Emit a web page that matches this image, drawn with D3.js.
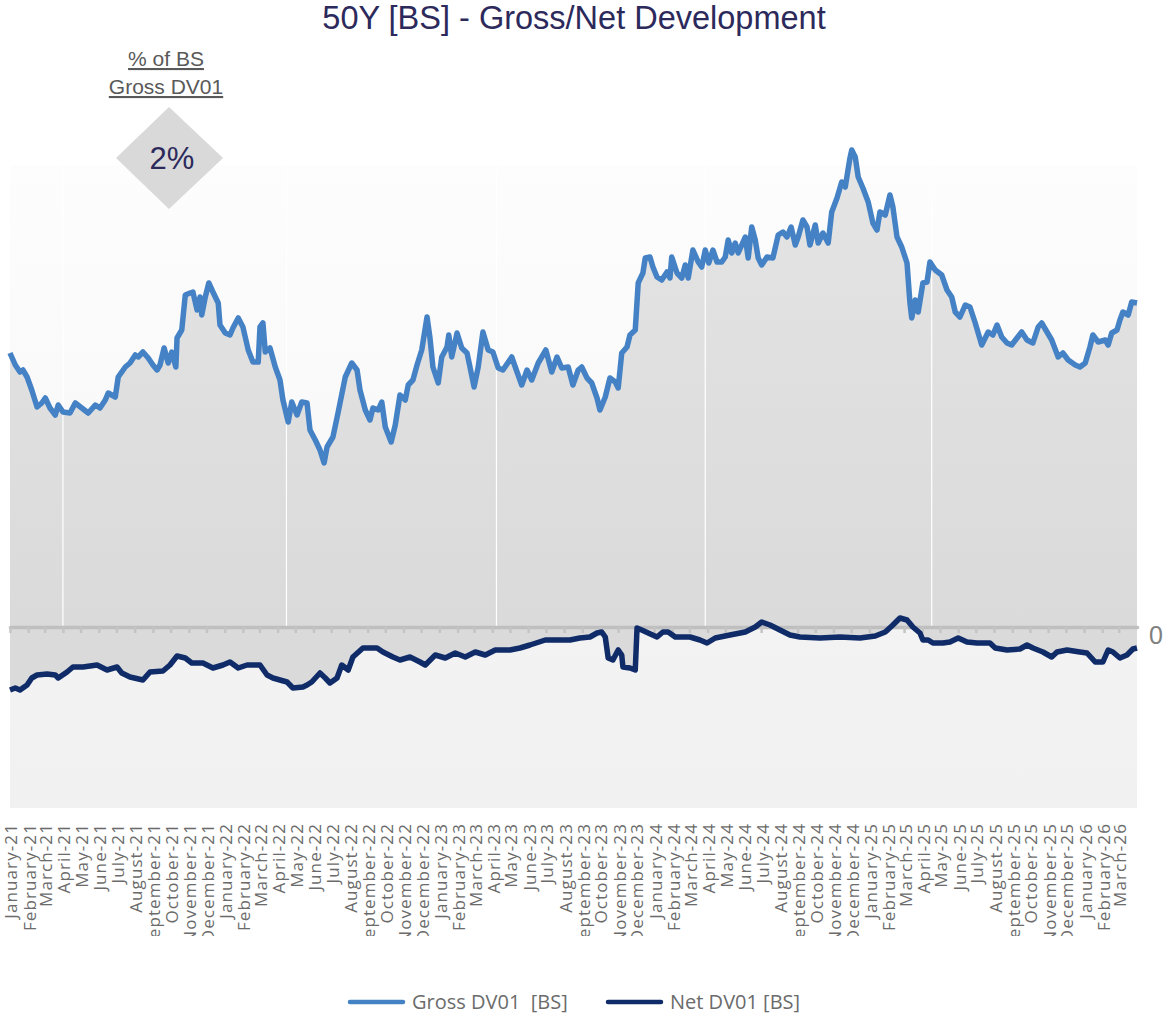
<!DOCTYPE html>
<html>
<head>
<meta charset="utf-8">
<script src="https://cdn.jsdelivr.net/npm/d3@7"></script>
<style>
  body { margin: 0; background: #fff; }
  svg { display: block; }
</style>
</head>
<body>
<div id="chart"></div>
<script>
// day offsets from 2021-01-01 and values (units, zero line = 0)
var grossDays = [0, 9, 17, 22, 29, 37, 46, 54, 60, 68, 77, 82, 90, 102, 111, 122, 133, 145, 153, 162, 167, 179, 184, 196, 204, 213, 218, 226, 235, 243, 250, 255, 262, 269, 275, 282, 284, 292, 298, 306, 311, 318, 323, 326, 332, 338, 345, 354, 357, 366, 374, 379, 388, 396, 405, 413, 422, 425, 430, 434, 442, 451, 459, 464, 473, 479, 488, 496, 505, 510, 519, 527, 534, 539, 549, 558, 570, 581, 590, 595, 604, 612, 617, 626, 632, 638, 648, 655, 663, 672, 677, 685, 692, 700, 709, 714, 719, 728, 734, 743, 746, 751, 760, 768, 777, 782, 789, 796, 804, 813, 821, 830, 838, 853, 862, 870, 879, 887, 898, 911, 921, 930, 938, 949, 957, 966, 972, 981, 989, 998, 1003, 1012, 1020, 1029, 1034, 1040, 1049, 1054, 1063, 1068, 1076, 1080, 1088, 1093, 1100, 1108, 1117, 1122, 1125, 1134, 1142, 1148, 1153, 1161, 1170, 1176, 1182, 1188, 1195, 1202, 1210, 1216, 1221, 1227, 1233, 1238, 1250, 1255, 1261, 1267, 1272, 1278, 1287, 1297, 1306, 1314, 1321, 1328, 1335, 1340, 1348, 1355, 1360, 1369, 1374, 1382, 1391, 1397, 1406, 1414, 1420, 1428, 1431, 1437, 1442, 1450, 1459, 1467, 1474, 1479, 1488, 1496, 1501, 1508, 1516, 1525, 1530, 1533, 1539, 1544, 1552, 1559, 1564, 1573, 1584, 1593, 1601, 1607, 1615, 1624, 1632, 1641, 1652, 1663, 1671, 1678, 1686, 1695, 1703, 1712, 1720, 1729, 1739, 1748, 1754, 1763, 1771, 1782, 1790, 1799, 1811, 1819, 1828, 1836, 1841, 1850, 1862, 1867, 1873, 1882, 1887, 1892, 1901, 1907, 1916];
var grossValues = [274, 262, 255, 257, 250, 237, 220, 224, 229, 219, 212, 222, 215, 214, 224, 219, 214, 222, 219, 227, 234, 230, 250, 260, 264, 272, 270, 275, 269, 262, 257, 262, 279, 264, 275, 260, 289, 297, 332, 334, 335, 317, 330, 312, 330, 344, 335, 324, 302, 294, 292, 299, 309, 300, 277, 265, 265, 300, 304, 275, 279, 260, 247, 227, 205, 225, 212, 225, 224, 197, 187, 177, 164, 180, 190, 215, 250, 264, 257, 237, 217, 207, 219, 217, 225, 200, 185, 202, 232, 227, 242, 247, 262, 277, 310, 289, 260, 244, 270, 280, 292, 270, 294, 279, 274, 260, 240, 260, 295, 277, 275, 259, 257, 270, 255, 242, 257, 247, 264, 277, 255, 270, 259, 260, 242, 257, 260, 249, 244, 229, 217, 230, 249, 245, 239, 274, 280, 292, 297, 344, 354, 369, 370, 360, 350, 347, 355, 349, 370, 354, 349, 362, 349, 377, 365, 360, 377, 364, 377, 365, 365, 370, 387, 374, 384, 374, 390, 369, 400, 387, 369, 362, 370, 369, 392, 395, 390, 400, 382, 390, 407, 400, 382, 402, 384, 394, 384, 415, 429, 445, 440, 469, 477, 470, 450, 439, 425, 404, 397, 415, 412, 432, 420, 390, 380, 364, 324, 309, 327, 315, 344, 345, 365, 357, 352, 337, 330, 315, 310, 322, 320, 304, 282, 295, 292, 302, 290, 284, 282, 289, 295, 287, 284, 300, 304, 295, 287, 270, 274, 267, 262, 260, 264, 280, 292, 285, 287, 282, 294, 297, 307, 315, 312, 325, 324];

var netDays = [0, 9, 17, 29, 37, 46, 63, 77, 82, 97, 107, 124, 148, 165, 182, 190, 204, 226, 238, 260, 272, 284, 298, 309, 328, 345, 362, 374, 388, 403, 425, 437, 447, 459, 471, 481, 498, 505, 513, 527, 536, 544, 556, 564, 575, 583, 600, 624, 634, 651, 663, 680, 697, 706, 723, 740, 757, 774, 791, 808, 825, 850, 867, 884, 910, 935, 952, 969, 986, 998, 1006, 1012, 1017, 1025, 1034, 1040, 1042, 1054, 1063, 1066, 1074, 1085, 1100, 1110, 1119, 1131, 1156, 1173, 1185, 1199, 1224, 1250, 1267, 1278, 1292, 1309, 1326, 1343, 1377, 1411, 1445, 1471, 1488, 1501, 1513, 1525, 1535, 1547, 1552, 1561, 1569, 1586, 1598, 1612, 1627, 1644, 1666, 1675, 1695, 1717, 1729, 1739, 1756, 1771, 1780, 1797, 1819, 1831, 1845, 1858, 1867, 1875, 1887, 1899, 1909, 1916];
var netValues = [-63, -61, -63, -58, -51, -48, -47, -48, -51, -45, -40, -40, -38, -43, -40, -46, -50, -53, -45, -44, -38, -29, -31, -36, -36, -41, -38, -35, -41, -38, -38, -48, -51, -53, -55, -61, -60, -58, -55, -46, -51, -56, -51, -38, -43, -30, -21, -21, -25, -30, -33, -30, -35, -38, -28, -31, -26, -30, -25, -28, -23, -23, -21, -18, -13, -13, -13, -11, -10, -6, -5, -10, -31, -33, -23, -28, -40, -41, -43, -1, -3, -6, -10, -5, -5, -10, -10, -13, -16, -11, -8, -5, 0, 5, 2, -3, -8, -10, -11, -10, -11, -9, -5, 2, 9, 7, 0, -6, -13, -13, -16, -16, -15, -11, -15, -16, -16, -21, -23, -22, -18, -21, -25, -30, -25, -23, -25, -26, -35, -35, -23, -25, -31, -28, -22, -21];

var gridDates = ['2021-04-01', '2022-04-16', '2023-04-08', '2024-03-28', '2025-04-17'];
var sharePct = '2%';
var seriesNames = ['Gross DV01  [BS]', 'Net DV01 [BS]'];

var width = 1171;
var height = 1019;
var plot = { left: 10, right: 1137, top: 165, bottom: 808 };

var svg = d3.select('#chart')
  .append('svg')
  .attr('width', width)
  .attr('height', height);

var start = new Date(2021, 0, 1);
var end = d3.timeDay.offset(start, 1916);
var parseDate = d3.timeParse('%Y-%m-%d');

var gross = grossDays.map(function(d, i) {
  return { date: d3.timeDay.offset(start, d), value: grossValues[i] };
});
var net = netDays.map(function(d, i) {
  return { date: d3.timeDay.offset(start, d), value: netValues[i] };
});

var x = d3.scaleTime()
  .domain([start, end])
  .range([plot.left, plot.right]);

var y = d3.scaleLinear()
  .domain([-181, 462])
  .range([plot.bottom, plot.top]);

var defs = svg.append('defs');

var bgGrad = defs.append('linearGradient')
  .attr('id', 'bg-grad')
  .attr('gradientUnits', 'userSpaceOnUse')
  .attr('x1', 0).attr('y1', plot.top)
  .attr('x2', 0).attr('y2', plot.bottom);
bgGrad.append('stop').attr('offset', '0%').attr('stop-color', '#fdfdfd');
bgGrad.append('stop').attr('offset', '71%').attr('stop-color', '#f6f6f6');
bgGrad.append('stop').attr('offset', '72%').attr('stop-color', '#f3f3f3');
bgGrad.append('stop').attr('offset', '100%').attr('stop-color', '#f1f1f1');

var areaGrad = defs.append('linearGradient')
  .attr('id', 'area-grad')
  .attr('gradientUnits', 'userSpaceOnUse')
  .attr('x1', 0).attr('y1', plot.top)
  .attr('x2', 0).attr('y2', y(0));
areaGrad.append('stop').attr('offset', '0%').attr('stop-color', '#e4e4e4');
areaGrad.append('stop').attr('offset', '100%').attr('stop-color', '#dadada');

defs.append('clipPath')
  .attr('id', 'label-clip')
  .append('rect')
  .attr('x', 0).attr('y', 812)
  .attr('width', width).attr('height', 124);

// plot background
svg.append('rect')
  .attr('x', plot.left)
  .attr('y', plot.top)
  .attr('width', plot.right - plot.left)
  .attr('height', plot.bottom - plot.top)
  .attr('fill', 'url(#bg-grad)');

var area = d3.area()
  .x(function(d) { return x(d.date); })
  .y0(y(0))
  .y1(function(d) { return y(d.value); });

svg.append('path')
  .datum(gross)
  .attr('fill', 'url(#area-grad)')
  .attr('d', area);

svg.append('path')
  .datum(net)
  .attr('fill', '#dadada')
  .attr('d', area);

// vertical gridlines
svg.selectAll('.vgrid')
  .data(gridDates)
  .enter()
  .append('line')
  .attr('class', 'vgrid')
  .attr('x1', function(d) { return x(parseDate(d)); })
  .attr('x2', function(d) { return x(parseDate(d)); })
  .attr('y1', plot.top)
  .attr('y2', y(0))
  .attr('stroke', '#ffffff')
  .attr('stroke-width', 1.2);

// zero axis with monthly ticks
var months = d3.timeMonth.range(start, end);

var zeroAxis = svg.append('g')
  .attr('transform', 'translate(0,' + y(0) + ')')
  .call(d3.axisBottom(x).tickValues(months).tickSize(6).tickSizeOuter(0).tickFormat(''));
zeroAxis.select('.domain')
  .attr('stroke', '#bfbfbf')
  .attr('stroke-width', 3.5)
  .attr('stroke-linecap', 'round');
zeroAxis.selectAll('.tick line')
  .attr('stroke', '#c4c4c4')
  .attr('stroke-width', 2.5);

svg.append('text')
  .attr('x', 1149)
  .attr('y', y(0) + 17)
  .attr('font-family', 'Liberation Sans, Arial, sans-serif')
  .attr('font-size', 25)
  .attr('fill', '#808080')
  .text('0');

// series lines
var line = d3.line()
  .x(function(d) { return x(d.date); })
  .y(function(d) { return y(d.value); });

svg.append('path')
  .datum(gross)
  .attr('fill', 'none')
  .attr('stroke', '#4482c5')
  .attr('stroke-width', 5.5)
  .attr('stroke-linejoin', 'round')
  .attr('d', line);

svg.append('path')
  .datum(net)
  .attr('fill', 'none')
  .attr('stroke', '#0f2b68')
  .attr('stroke-width', 5.5)
  .attr('stroke-linejoin', 'round')
  .attr('d', line);

// month labels
var fmt = d3.timeFormat('%B-%y');
var labelAxis = svg.append('g')
  .attr('clip-path', 'url(#label-clip)')
  .append('g')
  .attr('transform', 'translate(1,823)')
  .call(d3.axisBottom(x).tickValues(months).tickSize(0).tickFormat(fmt));
labelAxis.select('.domain').remove();
labelAxis.selectAll('text')
  .attr('transform', 'rotate(-90)')
  .attr('x', 0)
  .attr('y', 0)
  .attr('dy', '0.35em')
  .style('text-anchor', 'end')
  .attr('font-family', 'Open Sans, sans-serif')
  .attr('font-size', 17)
  .attr('letter-spacing', 1.1)
  .attr('fill', '#6b6b6b');

// title
svg.append('text')
  .attr('x', 574)
  .attr('y', 29)
  .attr('text-anchor', 'middle')
  .attr('font-family', 'Liberation Sans, Arial, sans-serif')
  .attr('font-size', 32.5)
  .attr('fill', '#2c295b')
  .text('50Y [BS] - Gross/Net Development');

// share box
var note = svg.append('g');
note.append('text')
  .attr('x', 166).attr('y', 66)
  .attr('text-anchor', 'middle')
  .attr('font-family', 'Liberation Sans, Arial, sans-serif')
  .attr('font-size', 21)
  .attr('fill', '#595959')
  .attr('text-decoration', 'underline')
  .text('% of BS');
note.append('text')
  .attr('x', 166).attr('y', 94)
  .attr('text-anchor', 'middle')
  .attr('font-family', 'Liberation Sans, Arial, sans-serif')
  .attr('font-size', 21)
  .attr('fill', '#595959')
  .attr('text-decoration', 'underline')
  .text('Gross DV01');
note.append('path')
  .attr('d', 'M169,107 L223,158 L169,209 L116,158 Z')
  .attr('fill', '#d9d9d9');
note.append('text')
  .attr('x', 172).attr('y', 169)
  .attr('text-anchor', 'middle')
  .attr('font-family', 'Liberation Sans, Arial, sans-serif')
  .attr('font-size', 31)
  .attr('fill', '#2c295b')
  .text(sharePct);

// legend
var legend = svg.append('g');
var legendItems = [
  { name: seriesNames[0], color: '#4482c5', x: 350 },
  { name: seriesNames[1], color: '#0f2b68', x: 608 }
];
legendItems.forEach(function(d) {
  legend.append('line')
    .attr('x1', d.x).attr('x2', d.x + 53)
    .attr('y1', 1002).attr('y2', 1002)
    .attr('stroke', d.color)
    .attr('stroke-width', 4.5)
    .attr('stroke-linecap', 'round');
  legend.append('text')
    .attr('x', d.x + 62)
    .attr('y', 1009)
    .attr('font-family', 'Open Sans, sans-serif')
    .attr('font-size', 20)
    .attr('fill', '#6b6b6b')
    .attr('xml:space', 'preserve')
    .style('white-space', 'pre')
    .text(d.name);
});
</script>
</body>
</html>
